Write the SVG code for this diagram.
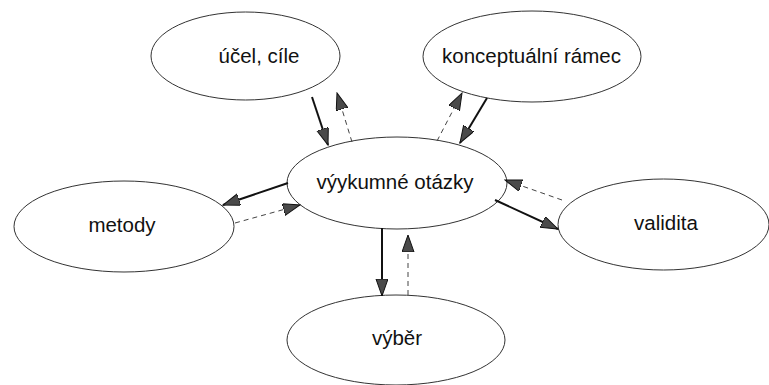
<svg xmlns="http://www.w3.org/2000/svg" width="769" height="385" viewBox="0 0 769 385">
<style>
.node ellipse{fill:#fff;stroke:#333;stroke-width:1}
.node text{font-family:"Liberation Sans",Arial,sans-serif;font-size:20.5px;fill:#111;text-anchor:middle}
.solid{stroke:#111;stroke-width:2;fill:none;marker-end:url(#ah)}
.dash{stroke:#444;stroke-width:1;stroke-dasharray:5,4;fill:none;marker-end:url(#ah)}
</style>
<defs>
<marker id="ah" markerUnits="userSpaceOnUse" markerWidth="18" markerHeight="13" refX="17" refY="6" orient="auto">
<path d="M0,0 L17,6 L0,12 z" fill="#4a4a4a" stroke="#111" stroke-width="1"/>
</marker>
</defs>
<rect width="769" height="385" fill="#fff"/>
<g id="ucel" class="node"><ellipse cx="245.5" cy="56" rx="94.5" ry="44"/><text x="259" y="63">účel, cíle</text></g>
<g id="ramec" class="node"><ellipse cx="532" cy="56.5" rx="109" ry="45.5"/><text x="531.5" y="63">konceptuální rámec</text></g>
<g id="otazky" class="node"><ellipse cx="397" cy="183" rx="110" ry="46"/><text x="395" y="189">výykumné otázky</text></g>
<g id="metody" class="node"><ellipse cx="124" cy="226.5" rx="110" ry="45.5"/><text x="122" y="232">metody</text></g>
<g id="validita" class="node"><ellipse cx="663.5" cy="224.5" rx="105.5" ry="45.5"/><text x="666" y="230">validita</text></g>
<g id="vyber" class="node"><ellipse cx="396" cy="340" rx="109" ry="45"/><text x="397" y="345">výběr</text></g>
<g id="connectors">
<path class="solid" d="M312,97 L328,145"/>
<path class="dash" d="M352,142 L337,93"/>
<path class="dash" d="M437,141 L462,93"/>
<path class="solid" d="M487,98 L460,143"/>
<path class="solid" d="M288,183 L223,205"/>
<path class="dash" d="M235,223 L300,205"/>
<path class="solid" d="M495,200 L558,229"/>
<path class="dash" d="M562,200 L505,180"/>
<path class="solid" d="M382,228 L382,296"/>
<path class="dash" d="M408,295 L408,235"/>
</g>
</svg>
